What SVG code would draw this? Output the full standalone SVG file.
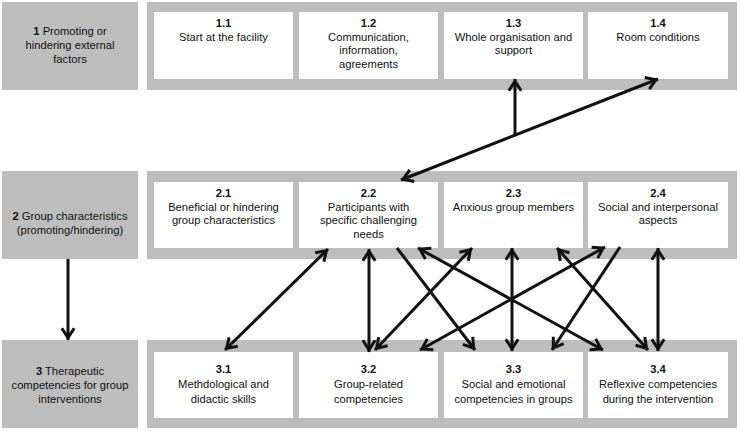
<svg xmlns="http://www.w3.org/2000/svg" width="740" height="431" viewBox="0 0 740 431">
<style>
.bg{fill:#bdbdbd}
.wb{fill:#ffffff}
text{font-family:"Liberation Sans",Arial,sans-serif;font-size:11.2px;fill:#111;text-anchor:middle}
.b{font-weight:bold}
.ar{stroke:#111;stroke-width:3;fill:none}
</style>
<defs>
<marker id="ah" markerUnits="userSpaceOnUse" viewBox="0 0 16 16" markerWidth="16" markerHeight="16" refX="14.3" refY="8" orient="auto-start-reverse" overflow="visible">
<path d="M2.5,1.8 L12,8 L2.5,14.2" fill="none" stroke="#111" stroke-width="3"/>
</marker>
</defs>
<rect width="740" height="431" fill="#fff"/>
<g id="row1">
<rect class="bg" x="2" y="2" width="136" height="88"/>
<rect class="bg" x="147" y="2" width="590" height="88"/>
</g>
<g id="row2">
<rect class="bg" x="2" y="171" width="136" height="88"/>
<rect class="bg" x="147" y="171" width="590" height="88"/>
</g>
<g id="row3">
<rect class="bg" x="2" y="340" width="136" height="88"/>
<rect class="bg" x="147" y="340" width="590" height="88"/>
</g>
<g id="label1">
<text x="70" y="35"><tspan class="b">1</tspan> Promoting or</text>
<text x="70" y="49">hindering external</text>
<text x="70" y="63">factors</text>
</g>
<g id="label2">
<text x="70" y="220"><tspan class="b">2</tspan> Group characteristics</text>
<text x="70" y="234">(promoting/hindering)</text>
</g>
<g id="label3">
<text x="70" y="375"><tspan class="b">3</tspan> Therapeutic</text>
<text x="70" y="389">competencies for group</text>
<text x="70" y="403">interventions</text>
</g>
<g id="n11"><rect class="wb" x="154" y="12" width="139" height="67"/>
<text class="b" x="223.5" y="27">1.1</text><text x="223.5" y="40.5">Start at the facility</text></g>
<g id="n12"><rect class="wb" x="299" y="12" width="139" height="67"/>
<text class="b" x="368.5" y="27">1.2</text><text x="368.5" y="40.5">Communication,</text><text x="368.5" y="54">information,</text><text x="368.5" y="67.5">agreements</text></g>
<g id="n13"><rect class="wb" x="444" y="12" width="139" height="67"/>
<text class="b" x="513.5" y="27">1.3</text><text x="513.5" y="40.5">Whole organisation and</text><text x="513.5" y="54">support</text></g>
<g id="n14"><rect class="wb" x="588" y="12" width="140" height="67"/>
<text class="b" x="658" y="27">1.4</text><text x="658" y="40.5">Room conditions</text></g>
<g id="n21"><rect class="wb" x="154" y="182" width="139" height="66"/>
<text class="b" x="223.5" y="197">2.1</text><text x="223.5" y="210.5">Beneficial or hindering</text><text x="223.5" y="224">group characteristics</text></g>
<g id="n22"><rect class="wb" x="299" y="182" width="139" height="66"/>
<text class="b" x="368.5" y="197">2.2</text><text x="368.5" y="210.5">Participants with</text><text x="368.5" y="224">specific challenging</text><text x="368.5" y="237.5">needs</text></g>
<g id="n23"><rect class="wb" x="444" y="182" width="139" height="66"/>
<text class="b" x="513.5" y="197">2.3</text><text x="513.5" y="210.5">Anxious group members</text></g>
<g id="n24"><rect class="wb" x="588" y="182" width="140" height="66"/>
<text class="b" x="658" y="197">2.4</text><text x="658" y="210.5">Social and interpersonal</text><text x="658" y="224">aspects</text></g>
<g id="n31"><rect class="wb" x="154" y="352" width="139" height="66"/>
<text class="b" x="223.5" y="373">3.1</text><text x="223.5" y="388">Methdological and</text><text x="223.5" y="402.5">didactic skills</text></g>
<g id="n32"><rect class="wb" x="299" y="352" width="139" height="66"/>
<text class="b" x="368.5" y="373">3.2</text><text x="368.5" y="388">Group-related</text><text x="368.5" y="402.5">competencies</text></g>
<g id="n33"><rect class="wb" x="444" y="352" width="139" height="66"/>
<text class="b" x="513.5" y="373">3.3</text><text x="513.5" y="388">Social and emotional</text><text x="513.5" y="402.5">competencies in groups</text></g>
<g id="n34"><rect class="wb" x="588" y="352" width="140" height="66"/>
<text class="b" x="658" y="373">3.4</text><text x="658" y="388">Reflexive competencies</text><text x="658" y="402.5">during the intervention</text></g>
<g id="connectors" class="ar">
<line x1="401" y1="180" x2="658" y2="79" marker-start="url(#ah)" marker-end="url(#ah)"/>
<line x1="515" y1="135" x2="515" y2="79" marker-end="url(#ah)"/>
<line x1="68" y1="259" x2="68" y2="340" marker-end="url(#ah)"/>
<line x1="328" y1="249" x2="225" y2="350" marker-start="url(#ah)" marker-end="url(#ah)"/>
<line x1="369" y1="249" x2="369" y2="352" marker-start="url(#ah)" marker-end="url(#ah)"/>
<line x1="397" y1="248" x2="475" y2="350" marker-end="url(#ah)"/>
<line x1="418" y1="248" x2="603" y2="350" marker-start="url(#ah)" marker-end="url(#ah)"/>
<line x1="375" y1="350" x2="472" y2="248" marker-start="url(#ah)" marker-end="url(#ah)"/>
<line x1="512" y1="248" x2="512" y2="351" marker-start="url(#ah)" marker-end="url(#ah)"/>
<line x1="557" y1="248" x2="648" y2="350" marker-start="url(#ah)" marker-end="url(#ah)"/>
<line x1="420" y1="350" x2="605" y2="247" marker-start="url(#ah)" marker-end="url(#ah)"/>
<line x1="620" y1="247" x2="552" y2="350" marker-end="url(#ah)"/>
<line x1="658" y1="248" x2="658" y2="351" marker-start="url(#ah)" marker-end="url(#ah)"/>
</g>
</svg>
